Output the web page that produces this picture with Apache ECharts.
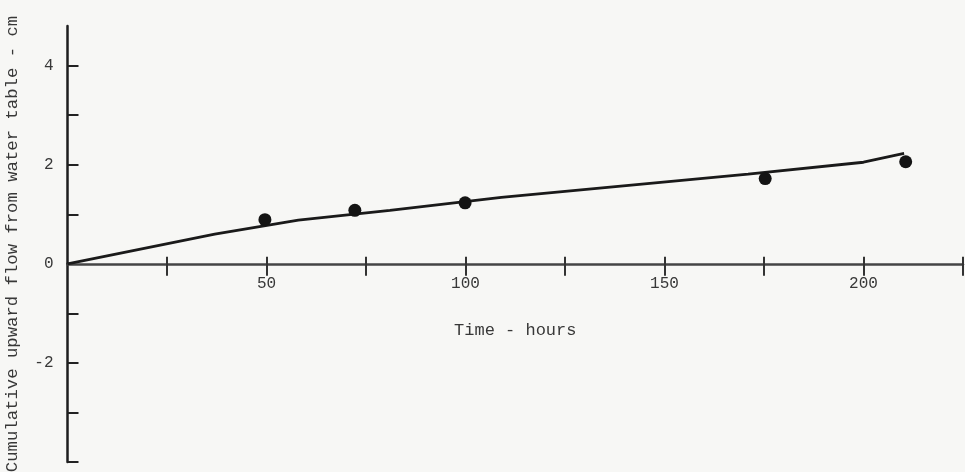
<!DOCTYPE html>
<html>
<head>
<meta charset="utf-8">
<script src="https://cdn.jsdelivr.net/npm/echarts@6/dist/echarts.min.js"></script>
<style>
html,body{margin:0;padding:0;background:#f7f7f5;}
#chart{width:965px;height:472px;}
</style>
</head>
<body>
<div id="chart"></div>
<script>
// Data
const dotTimes = [49.6, 72.2, 99.9, 175.3, 210.6];
const dotFlows = [0.89, 1.08, 1.23, 1.72, 2.06];
const lineTimes = [0, 37, 58, 81, 109, 171, 200, 210.2];
const lineFlows = [0, 0.6, 0.88, 1.08, 1.34, 1.81, 2.05, 2.23];
const xTickValues = [25, 50, 75, 100, 125, 150, 175, 200, 225];
const xLabelValues = [50, 100, 150, 200];
const yTickUpper = [1, 2, 3, 4];
const yLabelUpper = [0, 2, 4];
const yTickLower = [-4, -3, -2, -1];
const yLabelLower = [-2];
const xTitle = 'Time - hours';
const yTitle = 'Cumulative upward flow from water table - cm';

const FONT = '"Liberation Mono", "DejaVu Sans Mono", monospace';
const TXT = '#383838';
const ZERO_Y = 263.8;   // pixel row of the time axis
const LEFT = 67.5, RIGHT = 2, TOP = 26, BOTTOM = 10;

const gridBase = {left: LEFT, right: RIGHT, containLabel: false, outerBoundsMode: 'none'};

const chart = echarts.init(document.getElementById('chart'), null, {renderer: 'canvas'});
const option = {
  backgroundColor: '#f7f7f5',
  animation: false,
  grid: [
    Object.assign({}, gridBase, {top: TOP, bottom: 472 - ZERO_Y}),
    Object.assign({}, gridBase, {top: ZERO_Y, bottom: BOTTOM}),
    Object.assign({}, gridBase, {top: TOP, bottom: BOTTOM})
  ],
  xAxis: [
    {
      gridIndex: 0, type: 'value', min: 0, max: 225, position: 'bottom',
      axisLine: {show: true, onZero: false, lineStyle: {color: '#454545', width: 2.5}},
      axisTick: {show: true, inside: true, length: 7, customValues: xTickValues, lineStyle: {color: '#333', width: 2}},
      splitLine: {show: false},
      axisLabel: {show: false},
      name: xTitle, nameLocation: 'middle', nameGap: 58,
      nameTextStyle: {fontFamily: FONT, fontSize: 17, color: TXT}
    },
    {
      gridIndex: 1, type: 'value', min: 0, max: 225, position: 'top',
      axisLine: {show: false, onZero: false},
      axisTick: {show: true, inside: true, length: 12, customValues: xTickValues, lineStyle: {color: '#333', width: 2}},
      splitLine: {show: false},
      axisLabel: {
        show: true, inside: true, margin: 12, customValues: xLabelValues,
        fontFamily: FONT, fontSize: 16, color: TXT
      }
    },
    {
      gridIndex: 2, type: 'value', min: 0, max: 225, show: false
    }
  ],
  yAxis: [
    {
      gridIndex: 0, type: 'value', min: 0, max: 4.8,
      axisLine: {show: true, onZero: false, lineStyle: {color: '#1e1e1e', width: 2.5}},
      axisTick: {show: true, inside: true, length: 11, customValues: yTickUpper, lineStyle: {color: '#222', width: 2}},
      splitLine: {show: false},
      axisLabel: {margin: 14, customValues: yLabelUpper, fontFamily: FONT, fontSize: 16, color: TXT}
    },
    {
      gridIndex: 1, type: 'value', min: -4, max: 0,
      axisLine: {show: true, onZero: false, lineStyle: {color: '#1e1e1e', width: 2.5}},
      axisTick: {show: true, inside: true, length: 11, customValues: yTickLower, lineStyle: {color: '#222', width: 2}},
      splitLine: {show: false},
      axisLabel: {margin: 14, customValues: yLabelLower, fontFamily: FONT, fontSize: 16, color: TXT}
    },
    {
      gridIndex: 2, type: 'value', min: -4, max: 4.8,
      axisLine: {show: false}, axisTick: {show: false}, axisLabel: {show: false}, splitLine: {show: false},
      name: yTitle, nameLocation: 'middle', nameGap: 47, nameRotate: 90,
      nameTextStyle: {fontFamily: FONT, fontSize: 17.3, color: TXT}
    }
  ],
  series: [
    {
      type: 'line', xAxisIndex: 0, yAxisIndex: 0,
      data: lineTimes.map((t, i) => [t, lineFlows[i]]),
      showSymbol: false, symbol: 'none', clip: false,
      lineStyle: {color: '#1a1a1a', width: 2.8},
      z: 3
    },
    {
      type: 'scatter', xAxisIndex: 0, yAxisIndex: 0,
      data: dotTimes.map((t, i) => [t, dotFlows[i]]),
      symbol: 'circle', symbolSize: 13, clip: false,
      itemStyle: {color: '#141414', opacity: 1},
      z: 4
    }
  ]
};
chart.setOption(option);
</script>
</body>
</html>
